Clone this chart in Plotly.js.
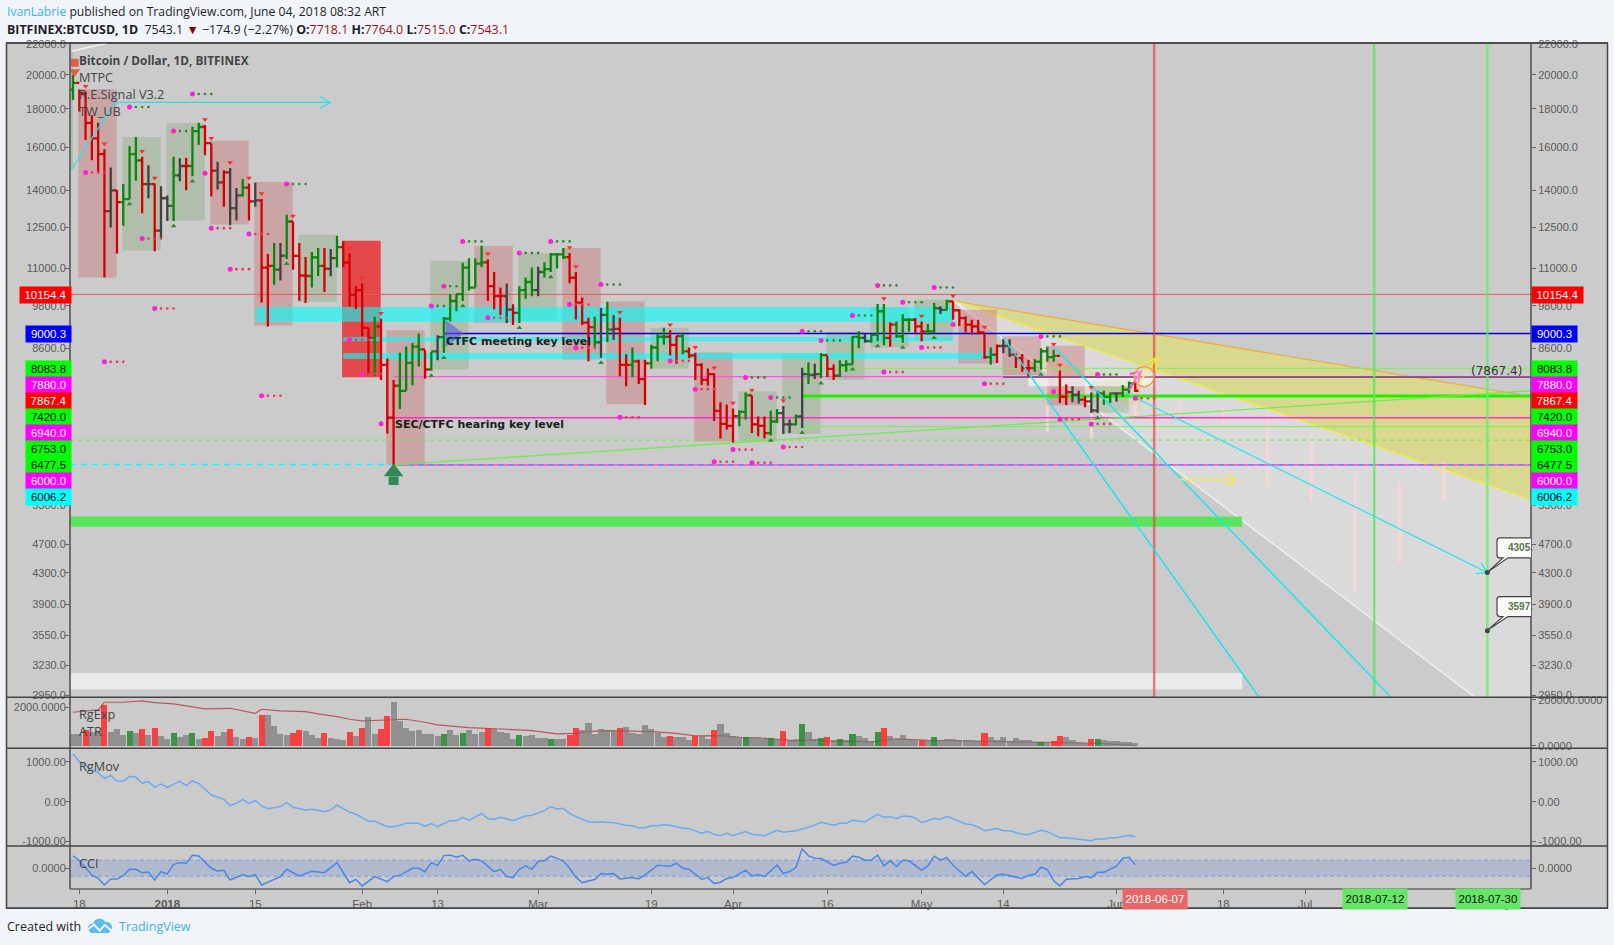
<!DOCTYPE html>
<html><head><meta charset="utf-8">
<script src="https://cdn.plot.ly/plotly-3.0.1.min.js"></script>
<style>html,body{margin:0;padding:0;background:#f1f5f9;overflow:hidden}#c{width:1614px;height:945px}</style>
</head><body><div id="c"></div>
<script>
// ---------- data ----------
const startDate = Date.UTC(2017,11,17);
const barKinds = "grrrrrdrgg"+"grdrddgdrg"+"grrdrddgrd"+"rrgdgrrrgg"+"rdgrrrrrgr"+"rrggggrgdg"+"ggggggrrrd"+"rgggdggggr"+"rrrgdgdrrg"+"rrgggrrgrr"+"rrrrrrggrr"+"rggddgdgdg"+"rrggggdggg"+"rgggrrggdg"+"rrrrrrgrdd"+"rrrggggrrd"+"drddggdggr";
const highs = [20000,19100,18980,17660,17240,15890,15020,14010,14270,16050,16500,15530,15120,14300,14180,13780,15530,15460,15480,17030,17240,17130,16170,15290,14890,15000,14100,14500,14300,14330,13630,11500,11900,11900,12980,12715,11900,11400,11572,11714,11720,11680,12170,11960,11530,10411,10510,9160,9477,9420,8330,7800,8480,8645,8740,9000,8550,8500,8950,9470,10160,10160,11200,11350,11350,11800,11320,10880,10370,10500,9850,10410,10700,11030,11060,11210,11540,11540,11720,11540,10880,10060,9450,9480,9740,9930,9530,9450,8445,8620,8300,8300,8690,8990,9160,9090,8930,8990,8620,8480,8210,8080,7960,7280,7230,7140,7100,7505,7435,6965,6965,7094,7130,7195,6900,7010,8100,8235,8200,8475,8400,8180,8290,8290,8921,9060,8990,8990,9860,9860,9320,9340,9550,9440,9440,9340,9270,9890,9790,9990,9940,9690,9490,9390,9390,9030,8620,8700,8840,8840,8470,8450,8300,8320,8600,8640,8560,8030,7690,7647,7540,7420,7500,7540,7540,7500,7500,7680,7760,7764];
const lows = [18500,17850,16350,15360,14770,10700,12480,11520,12550,13620,14420,13040,13660,11600,12090,12730,12730,14400,14000,14620,16100,15600,13730,14030,13310,12570,12750,13730,12750,13310,9900,9200,10460,10600,11330,10955,9955,9886,10374,10747,10228,10740,11030,11040,9790,9710,8925,7920,7890,7800,6610,6000,7130,7540,7670,8130,7830,8020,8290,8478,9345,9640,9950,10280,10370,11050,9950,9700,9530,9300,9240,9300,10020,10100,10100,10700,10880,11000,11330,10510,9400,9240,8260,8640,8350,8770,8820,7890,7650,7870,7700,7220,8070,8260,8690,8410,8200,8445,8340,7800,7680,7660,6870,6510,6690,6430,6760,6900,6620,6555,6510,6570,6830,6600,6620,6780,6725,7700,7820,7840,7870,7800,7870,8000,8180,8600,8750,8750,8790,8680,8640,8880,8750,9050,9000,8790,8960,9020,9560,9670,9390,9210,9030,8970,8970,8320,8170,8220,8470,8370,8090,8000,7880,8000,8050,8250,8250,7264,7220,7280,7250,7170,7040,7040,7220,7264,7290,7400,7480,7515];
const closes = [19500,18900,17240,16430,15650,13130,14000,13500,13620,15650,15350,14270,14270,12360,13660,13340,14660,15090,15090,16800,17020,16190,14880,14350,14800,13250,13780,14120,13530,13570,11030,11090,10960,11440,12715,11436,10764,10747,11380,11087,10990,11360,11750,11205,10140,10290,9160,8880,9200,8170,6940,7660,7540,8220,8645,8570,8054,8515,8900,9420,9950,10160,11030,10370,11165,11210,10415,10100,10100,9690,9590,10290,10550,10290,10880,10980,11490,11490,11390,10690,9900,9310,9180,8760,9530,9110,9130,8170,8170,8260,7820,8210,8620,8910,8910,8690,8925,8515,8410,8170,7800,7940,7090,6810,6770,6975,7065,7435,6800,6770,6620,6860,7040,6800,6800,6970,7940,7920,7940,8420,8070,7900,8160,8180,8905,8880,8790,8960,9640,8880,9250,8920,9390,9390,9200,9060,9060,9730,9680,9940,9670,9440,9250,9200,9030,8370,8430,8660,8660,8430,8340,8090,8090,8250,8520,8370,8400,7405,7510,7450,7340,7300,7100,7480,7400,7480,7480,7570,7718.1,7543.1];
const firstOpen = 19100;

const volumesK = [52,52,70,62,67,178,62,74,48,65,55,74,48,78,43,30,57,41,48,57,30,35,65,43,61,74,39,30,39,35,135,135,88,52,48,57,70,65,48,36,57,35,29,26,61,43,78,126,52,74,130,191,109,78,65,70,52,52,43,52,70,48,57,70,52,61,78,74,61,57,30,48,43,48,35,33,30,30,30,48,77,70,99,52,74,70,65,77,83,57,52,90,74,57,39,43,39,39,26,43,43,30,70,96,57,45,39,39,39,39,30,35,30,65,22,30,96,61,30,35,39,26,30,26,52,43,35,22,61,78,43,30,48,30,26,26,26,39,22,30,30,26,26,26,22,57,39,26,39,22,35,26,26,17,17,17,22,43,39,26,17,13,30,30,26,22,22,17,17,13];
const volRedDays = [2,5,11,13,21,22,25,28,30,35,36,40,44,46,49,50,66,79,80,87,95,99,102,113,120,129,135,145,156,157,162];
const volGreenDays = [9,16,19,59,62,71,76,107,111,116,119,122,124,128,137,154,163];

const rgExpDays = [0,4,5,8,11,13,16,19,21,25,28,29,30,33,37,39,42,44,46,50,53,56,58,63,66,69,73,77,80,82,85,88,92,96,99,103,106,110,115,118,120,127,131,136,144,152,158,163,169];
const rgExpVals = [1741,1860,2258,2258,2326,2238,2170,2032,1912,1946,1740,1688,1895,1810,1775,1654,1516,1378,1292,1361,1378,1223,1085,947,913,862,792,620,654,741,792,775,741,654,517,534,448,396,258,310,258,207,362,293,258,189,189,138,17];

const rgMovDays = [0,1,3,4,5,6,7,8,9,10,11,12,13,14,15,17,18,19,20,22,24,25,26,27,28,29,30,31,33,34,35,37,38,40,41,42,44,45,47,48,50,51,52,53,55,56,57,58,60,61,62,63,65,66,67,68,70,72,73,75,76,77,78,79,80,81,82,83,84,86,87,88,89,90,91,92,93,94,95,96,97,98,99,100,101,102,103,104,105,107,108,110,112,113,115,116,117,119,121,122,123,124,125,126,128,129,130,131,132,133,134,135,137,138,139,140,142,143,144,145,147,148,149,151,152,154,155,157,158,160,162,163,164,165,166,168,169];
const rgMovVals = [1202,1009,799,732,589,665,513,513,639,614,463,505,362,446,362,513,404,522,463,169,60,-100,-41,60,-41,26,-108,-175,-125,-24,-142,-209,-192,-251,-209,-83,-268,-310,-495,-495,-629,-629,-595,-545,-545,-621,-553,-629,-478,-478,-394,-469,-293,-427,-444,-394,-478,-360,-343,-226,-125,-184,-167,-293,-377,-436,-503,-520,-503,-528,-570,-595,-604,-654,-654,-604,-604,-579,-595,-629,-671,-679,-738,-797,-755,-822,-856,-797,-856,-755,-822,-856,-721,-772,-730,-679,-646,-520,-595,-545,-545,-469,-478,-503,-318,-394,-377,-427,-369,-369,-411,-528,-427,-444,-369,-427,-562,-579,-638,-730,-679,-730,-730,-822,-831,-721,-755,-906,-906,-948,-982,-931,-948,-906,-906,-847,-881];

const cciDays = [0,1,3,4,5,6,7,8,9,10,11,12,13,14,15,16,17,18,19,20,22,23,24,25,27,28,29,30,33,34,36,37,38,40,42,44,45,46,48,50,51,52,54,55,56,57,58,59,60,61,62,63,64,65,67,68,69,70,71,72,73,74,75,76,78,79,80,81,83,84,85,86,87,89,90,91,93,95,96,97,98,100,101,102,103,104,105,107,108,109,110,112,113,114,115,116,117,118,119,121,122,123,124,125,126,127,128,129,130,131,132,133,135,136,137,138,139,140,142,143,145,147,148,151,152,153,154,155,156,157,158,160,161,162,163,164,166,167,168,169];
const cciVals = [153,96,-79,-120,-201,-128,-128,-87,-10,-10,-51,-43,-140,-39,-67,51,71,63,161,153,2,-30,-22,-140,-75,-99,-75,-201,-99,-10,-91,-67,-34,-51,71,-173,-132,-213,-99,-160,-99,-83,2,2,-39,71,35,157,165,136,161,92,112,92,-39,-10,-99,-112,-10,31,-10,85,97,150,93,3,-106,-172,-135,-62,-70,-62,-127,-111,-127,-78,40,28,64,3,-9,-131,-111,-184,-168,-123,-111,-21,-90,-74,-98,40,-62,-37,11,239,154,125,121,36,64,76,150,137,101,101,162,32,93,24,101,93,-21,32,150,101,133,40,-94,-37,-196,-78,-70,-123,-82,-70,15,-13,-151,-212,-131,-123,-98,-111,-46,-46,28,125,137,44];

const pivotGreenDays = [19,9,34,16,62,76,71,84,59,57,128,137,124,132,116,119,154,107,111,163];
const pivotGreenPrices = [18845,18101,14273,16806,11958,11958,11542,10470,10411,9800,10440,10375,9514,9910,9060,8810,8920,7860,7385,7930];
const pivotRedDays = [2,11,22,28,25,5,13,30,79,66,44,46,80,95,99,87,102,135,129,145,169,157,162,105,113,108];
const pivotRedPrices = [14792,12067,12457,12232,10976,8250,9720,7427,9850,9450,8830,7945,8610,8270,7580,6950,6060,8620,7990,7710,7370,6910,6810,6290,6340,6040];
const pivotLoneDays = [21,49,140,156];
const pivotLonePrices = [14760,6815,9255,7520];

const sellSignalDays = [2,5,11,13,21,22,25,28,30,35,44,46,49,66,79,80,87,95,99,102,105,108,113,129,135,140,145,156,157,162];
const buySignalDays = [9,16,19,34,57,59,62,71,76,84,111,116,119,124,128,132,137,154,163];

const zoneDays0 = [1,8,15,22,29,36,50,57,64,71,78,85,92,99,106,113,120,127,134,141,148,155,162];
const zoneTops = [19136,16500,17230,16310,14360,12206,9090,11267,11787,11537,11715,9931,9160,8490,7533,8474,9056,9764,9986,9683,8921,8664,7800];
const zoneBottoms = [10698,11630,12755,12600,9226,9925,6003,8054,9305,9350,8305,7234,8080,6451,6457,6608,7800,8623,8810,8206,7916,7213,7050];
const zoneKindsAll = ["p","g","g","p","p","g","p","g","p","g","p","p","g","p","g","g","g","g","g","p","p","p","g"];

const forecastDays = [155,162,169,176,183,190,197,204,211,218,225];
const forecastTops = [8290,7094,7264,7305,7193,7042,6570,5863,5683,6070,5785];
const forecastBottoms = [6640,6510,6955,6900,6780,5608,5366,4047,4438,5386,4960];

const levelLabels = ["10154.4","9000.3","8083.8","7880.0","7867.4","7420.0","6940.0","6753.0","6477.5","6000.0","6006.2"];
const priceTicks = [22000,20000,18000,16000,14000,12500,11000,9800,8600,5300,4700,4300,3900,3550,3230,2950];
const dateTickDays = [1,15,29,46,58,74,92,105,120,135,148,166,172,183,196,207,211,225,227];
const dateTickLabels = ["18","<b>2018</b>","15","Feb","13","Mar","19","Apr","16","May","14","Jun","","18","Jul","","16","","Aug"];

// ---------- scale helpers (pixel geometry of the frame) ----------
const L=70,R=1531,T=43.3,B=889, PY_MAIN=697.3, PY_VOL=748.3, PY_MOV=846;
const leftI=(L-73)/6.286, rightI=(R-73)/6.286;
const d=i=>new Date(startDate+i*864e5).toISOString().replace('Z','');
const dp=i=>new Date(startDate+i*864e5).toISOString().slice(0,19).replace('T','_');
const px=x=>(x-L)/(R-L), py=y=>(B-y)/(B-T);
const days=closes.map((_,i)=>i), dates=days.map(d);
const opens=closes.map((c,i)=>i?closes[i-1]:firstOpen);
const GREEN='#0a860a',RED='#d60000',DARK='#424242';

// ---------- traces ----------
const traces=[];
function lineTrace(xs,ys,color,width,extra){
  traces.push(Object.assign({type:'scatter',mode:'lines',x:xs.map(v=>v===null?null:d(v)),y:ys,hoverinfo:'skip',showlegend:false,
   line:{color,width}},extra||{}));
}
// trend lines
lineTrace([148,189],[8884,2906],'#19e6ee',1.5);
lineTrace([156.2,209.8],[8612,2924],'#19e6ee',1.5);
lineTrace([167.4,225],[7495,4305],'#19e6ee',1.2);
lineTrace([-0.2,6.7,40.9],[14950,18361,18361],'#19e6ee',1.2);
lineTrace([-0.2,5.4],[21500,22050],'#f4f4f4',1.5);
function arrowHead(i1,p1,ux,uy,color,w){ // ux,uy: unit direction in screen pixels
  const len=10,sp=6;const pt=(dx,dy)=>[i1+dx/6.286,p1*Math.exp(-dy/324)];
  const a=pt(-ux*len-uy*sp,-uy*len+ux*sp), b=pt(-ux*len+uy*sp,-uy*len-ux*sp);
  lineTrace([a[0],i1,b[0]],[a[1],p1,b[1]],color,w);
}
arrowHead(40.9,18361,1,0,'#19e6ee',1.2);
arrowHead(225,4305,0.9,0.43,'#19e6ee',1.2);
lineTrace([176.1,185],[5730,5730],'#f4ee3c',1.5);
arrowHead(185,5730,1,0,'#f4ee3c',1.5);
lineTrace([169.5,172.4],[7700,8350],'#f4ee3c',1.6);
arrowHead(172.4,8350,0.58,-0.81,'#f4ee3c',1.6);
lineTrace([168,169.9],[7560,8010],'#ff40e0',2);
arrowHead(169.9,8010,0.7,-0.7,'#ff40e0',2);
traces.push({type:'scatter',mode:'markers',x:[d(170.4)],y:[7877],hoverinfo:'skip',showlegend:false,marker:{symbol:'circle',size:20,color:'rgba(255,240,200,0.35)',line:{color:'#ee9944',width:1.3}}});
// fixed big markers
function marks(xs,ys,sym,size,color,extra){
  traces.push({type:'scatter',mode:'markers',x:xs.map(d),y:ys,hoverinfo:'skip',showlegend:false,marker:Object.assign({symbol:sym,size,color,line:{width:0}},extra||{})});
}
marks([0.25],[20750],'square',8,'#df5f4c');
marks([0.25],[20190],'triangle-down',10,'#df5f4c');
marks([51],[5870],'triangle-up',17,'#2e8b57');
lineTrace([51,51],[5790,5640],'#2e8b57',10);
marks([60.2],[9000],'triangle-right',24,'rgba(90,90,225,0.6)');
// OHLC bars by colour
[['g',GREEN],['r',RED],['d',DARK]].forEach(([k,c])=>{
  const idx=days.filter(i=>barKinds[i]===k);
  traces.push({type:'ohlc',x:idx.map(i=>dates[i]),open:idx.map(i=>opens[i]),high:idx.map(i=>highs[i]),low:idx.map(i=>lows[i]),close:idx.map(i=>closes[i]),
    tickwidth:0.5,hoverinfo:'skip',showlegend:false,line:{width:2.3},increasing:{line:{color:c,width:2.3}},decreasing:{line:{color:c,width:2.3}}});
});
// signals
marks(sellSignalDays,sellSignalDays.map(i=>highs[i]*1.017),'triangle-down',5,'#ff2d2d');
marks(buySignalDays,buySignalDays.map(i=>lows[i]*0.985),'triangle-up',5,'#2e8b2e');
// pivots
function pivots(ds,ps,dotColor){
  if(dotColor){const xs=[],ys=[];ds.forEach((a,k)=>{[1,2,3].forEach(n=>{xs.push(a+n);ys.push(ps[k]);});});
    marks(xs,ys,'circle',2.6,dotColor);}
  marks(ds,ps,'circle',5,'#ff20d0');
}
pivots(pivotGreenDays,pivotGreenPrices,'#2e8b2e');
pivots(pivotRedDays,pivotRedPrices,'#ee3355');
pivots(pivotLoneDays,pivotLonePrices,null);
traces.push({type:'scatter',mode:'markers',x:[d(225),d(225)],y:[4305,3597],hoverinfo:'skip',showlegend:false,marker:{size:5,color:'#444'}});
// volume pane
const volColor=days.map(i=>volRedDays.includes(i)?'rgba(255,40,40,0.85)':volGreenDays.includes(i)?'rgba(20,135,35,0.8)':'rgba(120,120,120,0.72)');
traces.push({type:'bar',x:dates,y:volumesK.map(v=>v*1000),width:days.map(()=>864e5*0.97),marker:{color:volColor,line:{width:0}},yaxis:'y4',hoverinfo:'skip',showlegend:false});
traces.push({type:'scatter',mode:'lines',x:rgExpDays.map(d),y:rgExpVals,yaxis:'y3',line:{color:'#b25a5a',width:1.2},hoverinfo:'skip',showlegend:false});
// RgMov
traces.push({type:'scatter',mode:'lines',x:rgMovDays.map(d),y:rgMovVals,yaxis:'y5',line:{color:'#69aaf0',width:1.5},hoverinfo:'skip',showlegend:false});
// CCI
traces.push({type:'scatter',mode:'lines',x:cciDays.map(d),y:cciVals,yaxis:'y7',line:{color:'#4a86e8',width:1.5},hoverinfo:'skip',showlegend:false});
// carriers so that the mirrored axes exist
[['y2',20000],['y6',0],['y8',0]].forEach(([ax,v])=>traces.push({type:'scatter',mode:'markers',x:[d(0)],y:[v],yaxis:ax,marker:{size:1,opacity:0},hoverinfo:'skip',showlegend:false}));

// ---------- shapes ----------
const shapes=[];
const pShape=(x0,y0,x1,y1,fill,line,lw)=>shapes.push({type:'rect',xref:'paper',yref:'paper',x0:px(x0),x1:px(x1),y0:py(y0),y1:py(y1),fillcolor:fill,line:{color:line||'rgba(0,0,0,0)',width:lw||0},layer:'below'});
const pLine=(x0,y0,x1,y1,c,w,layer)=>shapes.push({type:'line',xref:'paper',yref:'paper',x0:px(x0),x1:px(x1),y0:py(y0),y1:py(y1),line:{color:c,width:w},layer:layer||'above'});
pShape(6.5,T,1607.5,908.3,'#cbcbcb','#444',1.5);
function zone(i0,i1,top,bot,fill){shapes.push({type:'rect',xref:'x',yref:'y',x0:d(i0),x1:d(i1),y0:bot,y1:top,fillcolor:fill,line:{width:0},layer:'below'});}
function level(p,i0,i1,c,w,dash,ax){shapes.push({type:'line',xref:'x',yref:ax||'y',x0:d(i0),x1:d(i1),y0:p,y1:p,line:{color:c,width:w,dash:dash||'solid'},layer:'below'});}
function seg(i0,p0,i1,p1,c,w,dash){shapes.push({type:'line',xref:'x',yref:'y',x0:d(i0),x1:d(i1),y0:p0,y1:p1,line:{color:c,width:w,dash:dash||'solid'},layer:'below'});}
function wedge(points,fill){shapes.push({type:'path',xref:'x',yref:'y',layer:'below',fillcolor:fill,line:{width:0},
  path:points.map(([i,p],k)=>(k?'L':'M')+dp(i)+','+p).join(' ')+' Z'});}
// light and yellow wedges
wedge([[140,9957],[223,2930],[rightI,2930],[rightI,5387]],'rgba(255,255,255,0.29)');
wedge([[140,9957],[rightI,7410],[rightI,5387]],'rgba(238,235,53,0.4)');
wedge([[152,8420],[170,7760],[170,7060]],'rgba(240,200,70,0.2)');
seg(140,9957,rightI,7410,'#efa83a',1.2);
seg(140,9957,rightI,5387,'#f4ee3c',1.2);
seg(140,9957,223,2930,'#f4f4f4',1.2);
seg(140,9700,rightI,5257,'rgba(255,215,215,0.7)',1,'4px,3px');
forecastDays.forEach((f,k)=>seg(f,forecastTops[k],f,forecastBottoms[k],'#f8d6d6',3));
const PINK='rgba(198,94,94,0.35)',SAGE='rgba(131,166,114,0.35)';
// left stray sage box, bright red box
zone(leftI,0,21500,14920,SAGE);
zone(42.8,48.95,11980,7864,'rgba(235,30,30,0.75)');
zoneDays0.forEach((z,k)=>zone(z-0.15,z+5.95,zoneTops[k],zoneBottoms[k],zoneKindsAll[k]==='p'?PINK:SAGE));
// wide bands
zone(29,140,9764,9330,'rgba(0,255,255,0.6)');
zone(43,140,8905,8790,'rgba(0,255,255,0.6)');
zone(43,147,8474,8319,'rgba(0,255,255,0.6)');
zone(leftI,186,5116,4958,'rgba(60,235,60,0.8)');
zone(leftI,186,3158,3000,'rgba(240,240,240,0.85)');
zone(152,172,7877,7650,'rgba(255,255,255,0.6)');
// levels
level(10154.4,leftI,rightI,'#ee5555',1);
level(9000.3,59,rightI,'#0000dd',1.6);
level(8083.8,116,rightI,'#77ee55',1);
level(7880,51,rightI,'#ff55dd',1.3);
level(7867.4,148,rightI,'#554455',1.2);
level(7420,116,rightI,'#22ee00',3);
level(6940,51,rightI,'#ff30c0',1.6);
level(6753,116,rightI,'#77ee55',1);
level(6477.5,leftI,rightI,'#66ee44',1,'4px,4px');
level(6006.2,leftI,51,'#00ffff',1.5,'6px,5px');
level(6000,51,rightI,'#7a7aff',1.6);
level(6000,51,rightI,'#ff66cc',1.6,'5px,5px');
seg(51,6000,rightI,7540,'#66ee44',1.2);
// vertical lines
[[172,'rgba(240,60,60,0.65)'],[207,'rgba(80,235,80,0.75)'],[225,'rgba(95,240,95,0.75)']].forEach(([i,c])=>{
  shapes.push({type:'line',xref:'x',yref:'y',x0:d(i),x1:d(i),y0:2930,y1:22055,line:{color:c,width:2.5},layer:'below'});});
// CCI band
shapes.push({type:'rect',xref:'x',yref:'y7',x0:d(leftI),x1:d(rightI),y0:-95,y1:100,fillcolor:'rgba(80,120,220,0.2)',line:{width:0},layer:'below'});
level(100,leftI,rightI,'#6f9fe8',1,'4px,3px','y7');
level(-95,leftI,rightI,'#6f9fe8',1,'4px,3px','y7');
// frame lines
pLine(L,T,L,B,'#555',1.6);
pLine(R,T,R,B,'#555',1.6);
pLine(L,B,R,B,'#666',1.6);
pLine(6.5,PY_MAIN,1607.5,PY_MAIN,'#444',1.3);
pLine(6.5,PY_VOL,1607.5,PY_VOL,'#444',1.3);
pLine(6.5,PY_MOV,1607.5,PY_MOV,'#444',1.3);
pLine(6.5,T,1607.5,T,'#444',1.5);
pLine(6.5,908.3,1607.5,908.3,'#444',1.5);
// callouts
function pPath(points){return points.map(([c,...a])=>c+a.map((v,j)=>j%2?(py(v)):(px(v))).join(' ')).join(' ');}
function callout(top,tipY){
  const b=top+20;
  const pth=pPath([['M',R,top],['L',1500,top],['Q',1497,top,1497,top+3],['L',1497,b-3],['Q',1497,b,1500,b],['L',1503,b],['L',1487,tipY],['L',1508,b],['L',R,b]]);
  shapes.push({type:'path',xref:'paper',yref:'paper',path:pth,fillcolor:'#fafafa',line:{color:'#444',width:1.2},layer:'above'});
}
callout(538,572.7);callout(596.7,630.7);
// footer logo
shapes.push({type:'path',xref:'paper',yref:'paper',layer:'above',fillcolor:'#59bdee',line:{width:0},
  path:pPath([['M',88,930],['C',87,925,91,923,93,924],['C',94,918,103,917,105,922],['C',109,921,113,925,112,929],['L',109,933],['L',91,933],['Z']])});
shapes.push({type:'path',xref:'paper',yref:'paper',layer:'above',fillcolor:'rgba(0,0,0,0)',line:{color:'#f1f5f9',width:2},
  path:pPath([['M',87,930],['L',94,924.5],['L',99.5,930.5],['L',105,925],['L',113,932]])});

// ---------- annotations ----------
const ann=[];
const FONT='"Open Sans",sans-serif',ARIAL='"Liberation Sans",Arial,sans-serif';
function note(t,x,y,o){o=o||{};ann.push(Object.assign({xref:'paper',yref:'paper',x:px(x),y:py(y),text:t,showarrow:false,xanchor:o.xa||'left',yanchor:'middle',
  font:{family:o.f||FONT,size:o.s||12,color:o.c||'#333'},borderpad:0},o.bg?{bgcolor:o.bg,width:o.w,height:o.h,align:o.al||'center'}:{}));}
// header
note('<span style="color:#3bb3e4">IvanLabrie</span> published on TradingView.com, June 04, 2018 08:32 ART',6,11.5,{s:12.2,c:'#1e1e1e'});
const V=t=>'<span style="color:#a01010">'+t+'</span>';
note('<b>BITFINEX:BTCUSD, 1D</b>  7543.1 <span style="color:#8b0000">▼</span> −174.9 (−2.27%) <b>O:</b>'+V('7718.1')+' <b>H:</b>'+V('7764.0')+' <b>L:</b>'+V('7515.0')+' <b>C:</b>'+V('7543.1'),6,29.5,{s:12.4,c:'#1e1e1e'});
// indicator legend
note('<b>Bitcoin / Dollar, 1D, BITFINEX</b>',78,60.7,{s:11.8,c:'#444'});
note('MTPC',78,77.5,{s:12.7,c:'#444'});
note('R.E.Signal V3.2',78,94.2,{s:12.7,c:'#444'});
note('TW_UB',78,111,{s:12.7,c:'#444'});
note('RgExp',78,714.5,{s:12.7,c:'#444'});
note('ATR',78,731.5,{s:12.7,c:'#444'});
note('RgMov',78,766,{s:12.7,c:'#444'});
note('CCI',78,863,{s:12.7,c:'#444'});
// drawings text
note('<b>CTFC meeting key level</b>',445,341.5,{f:'"DejaVu Sans",sans-serif',s:11,c:'#1c1c1c'});
note('<b>SEC/CTFC hearing key level</b>',394,425,{f:'"DejaVu Sans",sans-serif',s:11,c:'#1c1c1c'});
note('(7867.4)',1470,371.5,{f:'"DejaVu Sans",sans-serif',s:12,c:'#333'});
note('<b>4305.</b>',1506.5,548,{f:ARIAL,s:10,c:'#5b7344'});
note('<b>3597.</b>',1506.5,606.5,{f:ARIAL,s:10,c:'#5b7344'});
// price labels
const labelFills=['#ff0000','#0000ff','#00ff00','#ff00ff','#ff0000','#00ff00','#ff00ff','#00ff00','#00ff00','#ff00ff','#00ffff'];
const labelText=['#fff','#fff','#000','#fff','#fff','#000','#fff','#000','#000','#fff','#000'];
const labelY=[295,334.5,369,385,401,417,433,449,465,481,497];
levelLabels.forEach((t,k)=>{
  const wide=k===0?51:45;
  note(t,R,labelY[k],{f:ARIAL,s:11.5,c:labelText[k],bg:labelFills[k],w:wide,h:16});
  note(t,L-wide,labelY[k],{f:ARIAL,s:11.5,c:labelText[k],bg:labelFills[k],w:wide,h:16});
});
// date boxes
note('2018-06-07',1122,898.7,{f:ARIAL,s:11.5,c:'#fff',bg:'#e86666',w:64,h:19.5});
note('2018-07-12',1342,898.7,{f:ARIAL,s:11.5,c:'#111',bg:'#66e666',w:64,h:19.5});
note('2018-07-30',1455,898.7,{f:ARIAL,s:11.5,c:'#111',bg:'#66e666',w:64,h:19.5});
// footer
note('Created with',6,926.5,{s:12.5,c:'#1e1e1e'});
note('TradingView',118,926.5,{s:12.5,c:'#3bb3e4'});

// ---------- layout ----------
const tickFont={family:ARIAL,size:11,color:'#5a5a5a'};
const dom=(a,b)=>[py(b),py(a)];
const lg=p=>Math.log10(p);
const baseY={showgrid:false,zeroline:false,showline:false,ticks:'outside',ticklen:4,tickcolor:'#666',tickfont:tickFont,fixedrange:true,anchor:'x'};
const leftY=Object.assign({},baseY,{ticklabelstandoff:-3});
const layout={
  width:1614,height:945,autosize:false,showlegend:false,dragmode:false,bargap:0,barmode:'overlay',
  paper_bgcolor:'#f1f5f9',plot_bgcolor:'rgba(0,0,0,0)',
  margin:{l:L,r:1614-R,t:T,b:945-B,pad:0},
  xaxis:{type:'date',range:[d(leftI),d(rightI)],domain:[0,1],anchor:'y7',showgrid:false,zeroline:false,showline:false,rangeslider:{visible:false},
    tickmode:'array',tickvals:dateTickDays.map(d),ticktext:dateTickLabels,ticks:'outside',ticklen:4,tickcolor:'#666',tickfont:Object.assign({},tickFont,{size:11.5}),tickangle:0,fixedrange:true},
  yaxis:Object.assign({},leftY,{type:'log',side:'left',domain:dom(T,PY_MAIN),range:[lg(2930),lg(22055)],tickmode:'array',tickvals:priceTicks,ticktext:priceTicks.map(v=>v.toFixed(1))}),
  yaxis2:Object.assign({},baseY,{type:'log',side:'right',overlaying:'y',range:[lg(2930),lg(22055)],tickmode:'array',tickvals:priceTicks,ticktext:priceTicks.map(v=>v.toFixed(1))}),
  yaxis3:Object.assign({},leftY,{side:'left',domain:dom(PY_MAIN,PY_VOL),range:[-119,2517],tickmode:'array',tickvals:[2000],ticktext:['2000.0000']}),
  yaxis4:Object.assign({},baseY,{side:'right',overlaying:'y3',range:[-10000,211700],tickmode:'array',tickvals:[0,200000],ticktext:['0.0000','200000.0000']}),
  yaxis5:Object.assign({},leftY,{side:'left',domain:dom(PY_VOL,PY_MOV),range:[-1116,1346],tickmode:'array',tickvals:[-1000,0,1000],ticktext:['-1000.00','0.00','1000.00']}),
  yaxis6:Object.assign({},baseY,{side:'right',overlaying:'y5',range:[-1116,1346],tickmode:'array',tickvals:[-1000,0,1000],ticktext:['-1000.00','0.00','1000.00']}),
  yaxis7:Object.assign({},leftY,{side:'left',domain:dom(PY_MOV,B),range:[-250,274],tickmode:'array',tickvals:[0],ticktext:['0.0000']}),
  yaxis8:Object.assign({},baseY,{side:'right',overlaying:'y7',range:[-250,274],tickmode:'array',tickvals:[0],ticktext:['0.0000']}),
  shapes,annotations:ann
};
Plotly.newPlot('c',traces,layout,{staticPlot:true,displayModeBar:false});
</script></body></html>
